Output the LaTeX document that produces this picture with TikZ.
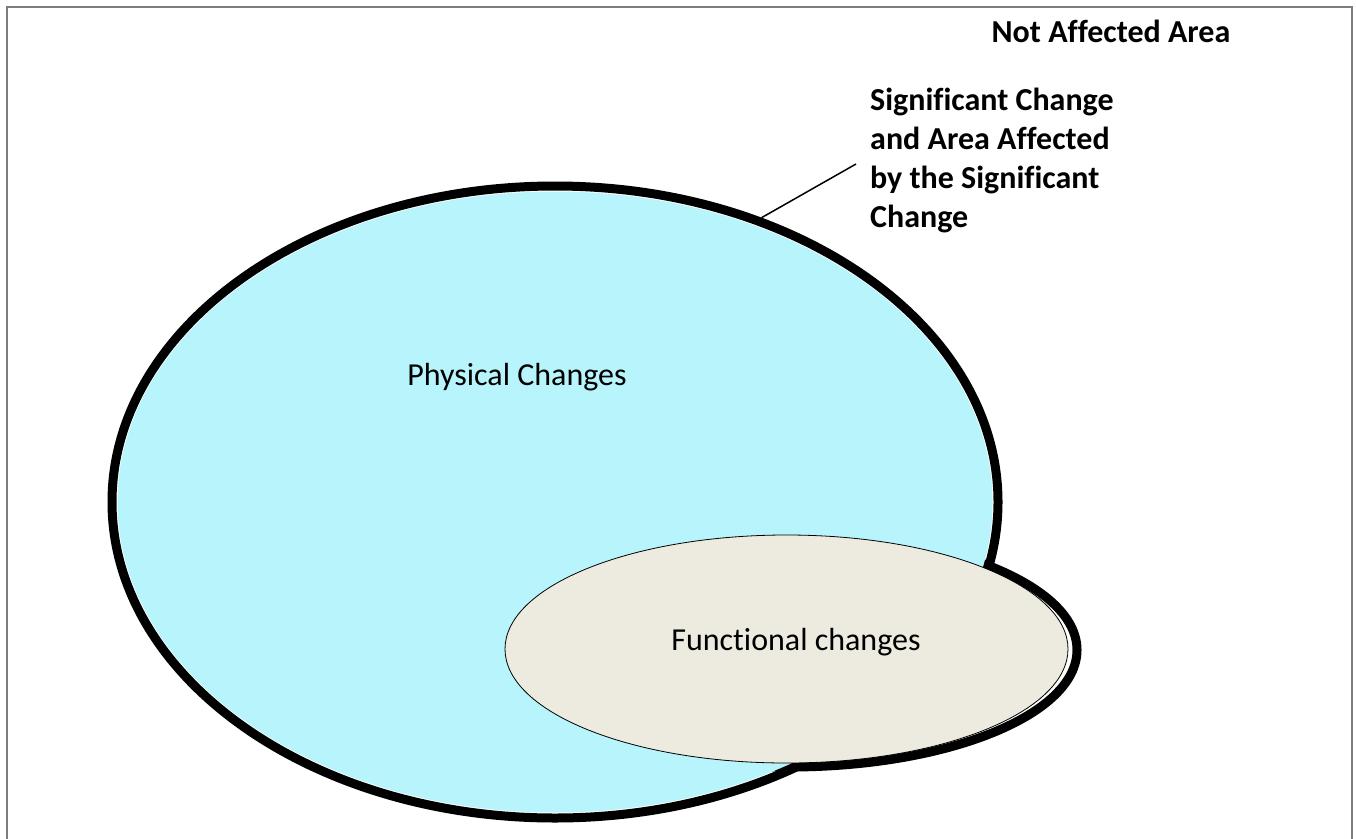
\documentclass[tikz,border=0pt]{standalone}
\usepackage{fontspec}
\setmainfont{Carlito}[Ligatures=NoCommon]
\usepackage{xcolor}
\usetikzlibrary{shapes.geometric}
\definecolor{physblue}{RGB}{183,244,252}
\definecolor{funcbeige}{RGB}{237,235,224}
\definecolor{framegray}{RGB}{125,125,125}
\tikzset{
	rim/.style={ellipse, draw=black, line width=9pt, inner sep=0pt},
	area/.style={ellipse, inner sep=0pt},
	lbl/.style={font=\fontsize{32}{39}\selectfont},
	boldlbl/.style={font=\fontsize{32}{39}\selectfont\bfseries},
}
\begin{document}
\begin{tikzpicture}[x=1pt, y=-1pt]
			\useasboundingbox (0,0) rectangle (1356,838);
			% frame
			\draw[framegray, line width=2.5pt] (7,840) |- (1352,7) -- (1352,840);
			
			% thick outline of the whole area
			\node[rim, minimum width=886, minimum height=632](phys) at (555,502) {};
			\node[rim, minimum width=576, minimum height=234](func) at (789,650) {};
			
			% fills
			\node[area, fill=physblue, minimum width=875, minimum height=621](physin) at (555,502) {};
			\node[area, fill=funcbeige, draw=black, line width=0.8pt, minimum width=563, minimum height=228](funcin) at (786.5,649) {};
			
			\node[lbl](physlbl) at (517,377) {Physical Changes};
			\node[lbl](funclbl) at (796,642) {Functional changes};
			
			\node[boldlbl](notaff) at (1111,31) {Not Affected Area};
			\node[boldlbl, align=left, anchor=west, inner sep=14pt](sig) at (856,160) {Significant Change\\and Area Affected\\by the Significant\\Change};
			\draw[line width=1.5pt] (sig.west) ++(0,4) -- (phys.54);
			
\end{tikzpicture}
\end{document}
